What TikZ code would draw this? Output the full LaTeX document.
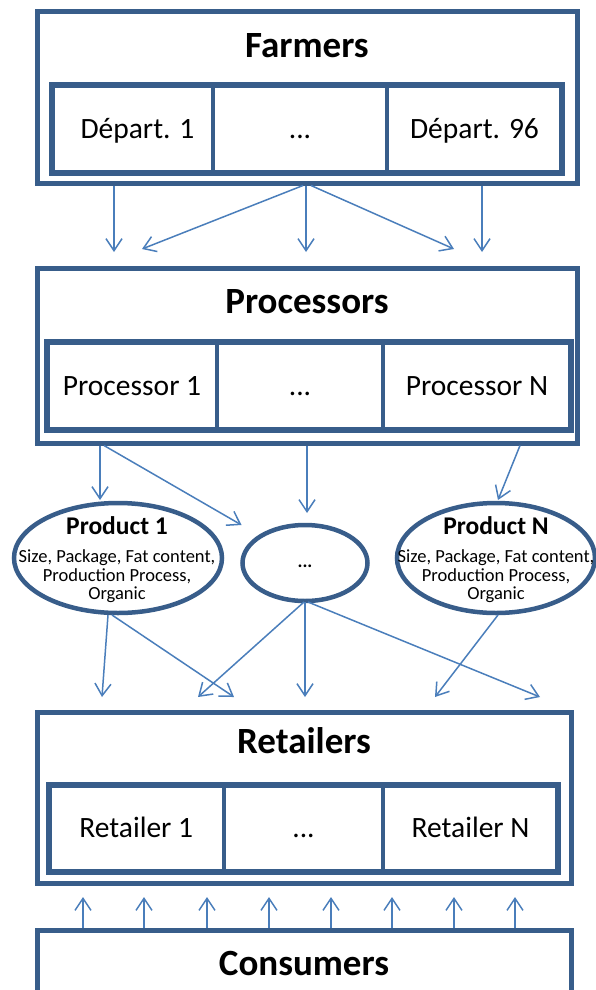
\documentclass[tikz,border=0pt]{standalone}
\usepackage{fontspec}
\setmainfont{Carlito}
\usetikzlibrary{arrows.meta,shapes.geometric,calc,fit}
\definecolor{boxblue}{RGB}{56,93,138}
\definecolor{arrowblue}{RGB}{74,126,187}
\begin{document}
\begin{tikzpicture}[x=1pt,y=-1pt,
  every node/.style={outer sep=0pt},
  tier/.style={draw=boxblue, line width=5pt, inner sep=0pt},
  cell/.style={draw=boxblue, line width=4pt, inner sep=0pt,
    text height=18pt, text depth=0pt, font=\fontsize{29.5}{34}\selectfont},
  rowframe/.style={draw=boxblue, line width=6pt, inner sep=0pt},
  title/.style={anchor=base, inner sep=0pt, font=\bfseries\fontsize{37}{42}\selectfont},
  prod/.style={ellipse, draw=boxblue, line width=4.5pt, inner sep=0pt},
  prodtext/.style={align=center, inner sep=0pt, font=\fontsize{18.5}{18.5}\selectfont},
  arr/.style={draw=arrowblue, line width=1.5pt, -{Straight Barb[length=12pt,width=16pt]}}]

\useasboundingbox (0,0) rectangle (596,990);
\clip (0,0) rectangle (596,990);

% ---- Farmers ----
\node[tier, minimum width=540pt, minimum height=171pt] (farm) at (307,97.5) {};
\node[title] (farmT) at (307,57) {Farmers};
\node[cell, minimum width=161pt, minimum height=88pt] (f1) at (132.5,129) {\hspace{10pt}Départ. 1};
\node[cell, minimum width=174pt, minimum height=88pt] (f2) at (300,129) {...};
\node[cell, minimum width=175pt, minimum height=88pt] (f3) at (474.5,129) {Départ. 96\hspace{10pt}};
\node[rowframe, fit=(f1)(f2)(f3)] (frow) {};

% ---- Processors ----
\node[tier, minimum width=540pt, minimum height=175pt] (proc) at (307,355.5) {};
\node[title] (procT) at (307,313) {Processors};
\node[cell, minimum width=170pt, minimum height=88pt] (p1) at (132,386) {Processor 1};
\node[cell, minimum width=166pt, minimum height=88pt] (p2) at (300,386) {...};
\node[cell, minimum width=188pt, minimum height=88pt] (p3) at (477,386) {Processor N};
\node[rowframe, fit=(p1)(p2)(p3)] (prow) {};

% ---- Products ----
\node[prod, minimum width=208pt, minimum height=110pt] (pr1) at (118,558) {};
\node[prodtext] (pr1t) at (117,560) {{\bfseries\fontsize{25.5}{28}\selectfont Product 1}\\[9.5pt]
  Size, Package, Fat content,\\Production Process,\\Organic};
\node[prod, minimum width=125pt, minimum height=76pt] (mid) at (305,563) {};
\node[prodtext, font=\bfseries\fontsize{18.5}{18.5}\selectfont] (midt) at (305,566) {...};
\node[prod, minimum width=198pt, minimum height=110pt] (prN) at (496,558) {};
\node[prodtext] (prNt) at (496,560) {{\bfseries\fontsize{25.5}{28}\selectfont Product N}\\[9.5pt]
  Size, Package, Fat content,\\Production Process,\\Organic};

% ---- Retailers ----
\node[tier, minimum width=534pt, minimum height=171pt] (retail) at (304,797.5) {};
\node[title] (retailT) at (304,753) {Retailers};
\node[cell, minimum width=175.5pt, minimum height=87pt] (r1) at (136.25,828.5) {Retailer 1};
\node[cell, minimum width=159pt, minimum height=87pt] (r2) at (303.5,828.5) {...};
\node[cell, minimum width=175pt, minimum height=87pt] (r3) at (470.5,828.5) {Retailer N};
\node[rowframe, fit=(r1)(r2)(r3)] (rrow) {};

% ---- Consumers ----
\node[tier, minimum width=534pt, minimum height=90pt] (cons) at (304,975) {};
\node[title] (consT) at (304,975) {Consumers};

% ---- Farmers to Processors ----
\draw[arr] ($(farm.south west)+(77,2.5)$)  -- ($(proc.north west)+(77,-16)$);
\draw[arr] ($(farm.south west)+(266,2.5)$) -- ($(proc.north west)+(105,-19)$);
\draw[arr] ($(farm.south west)+(269,2.5)$) -- ($(proc.north west)+(269,-16)$);
\draw[arr] ($(farm.south west)+(274,2.5)$) -- ($(proc.north west)+(417,-19)$);
\draw[arr] ($(farm.south west)+(445,2.5)$) -- ($(proc.north west)+(445,-16)$);

% ---- Processors to Products ----
\draw[arr] ($(proc.south west)+(63,2.5)$)  -- ($(pr1.north)+(-18,-3)$);
\draw[arr] ($(proc.south west)+(67,2.5)$)  -- ($(mid.west)+(-1,-38)$);
\draw[arr] ($(proc.south west)+(270,2.5)$) -- ($(mid.north)+(2,-12)$);
\draw[arr] ($(proc.south west)+(483,2.5)$) -- ($(prN.north)+(2,-3)$);

% ---- Products to Retailers ----
\draw[arr] ($(pr1.south)+(-10,2)$) -- ($(retail.north west)+(65,-15)$);
\draw[arr] ($(pr1.south)+(-6,2)$)  -- ($(retail.north west)+(197,-15)$);
\draw[arr] ($(mid.south)+(-1,1)$)  -- ($(retail.north west)+(161,-15)$);
\draw[arr] ($(mid.south)+(0,1)$)   -- ($(retail.north west)+(268,-15)$);
\draw[arr] ($(mid.south)+(3,1)$)   -- ($(retail.north west)+(503,-15)$);
\draw[arr] ($(prN.south)+(2,2)$)   -- ($(retail.north west)+(398,-15)$);

% ---- Consumers to Retailers ----
\foreach \dx in {46,107,170,232,294,355,417,478}
  \draw[arr] ($(cons.north west)+(\dx,-2.5)$) -- ($(retail.south west)+(\dx,14)$);

\end{tikzpicture}
\end{document}
